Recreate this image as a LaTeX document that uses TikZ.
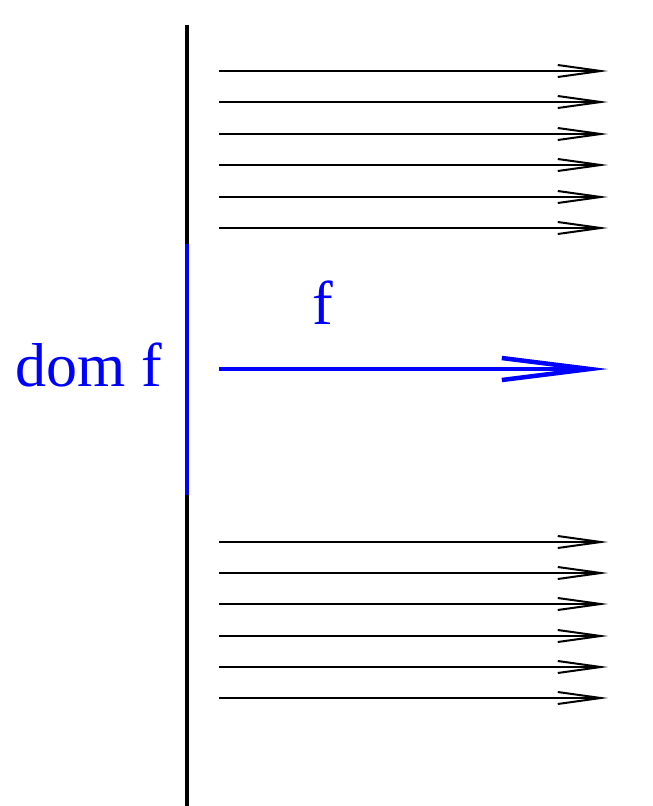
\documentclass[tikz,border=0pt]{standalone}
\usepackage{fontspec}
\setmainfont{Liberation Serif}
\usetikzlibrary{arrows.meta}
\definecolor{myblue}{RGB}{0,0,255}
\begin{document}
\begin{tikzpicture}[x=1pt,y=-1pt,
  thinarrow/.style={line width=2pt,-{Straight Barb[length=43pt,width=12pt,line cap=butt]}},
  bluearrow/.style={line width=4.5pt,myblue,-{Straight Barb[length=88pt,width=22pt,line cap=butt]}},
  axis/.style={line width=4pt,line cap=butt}]
\useasboundingbox (0,0) rectangle (653,806);
\coordinate (top) at (187,25);
\coordinate (b1) at (187,244);
\coordinate (b2) at (187,495);
\coordinate (bot) at (187,806);
\draw[axis] (top) -- (b1);
\draw[axis,myblue] (b1) -- (b2);
\draw[axis] (b2) -- (bot);
\foreach \i/\y in {1/71,2/102,3/134,4/165,5/197,6/228,7/542,8/573,9/604,10/636,11/667,12/698}{
  \coordinate (s\i) at (219,\y);
  \coordinate (e\i) at (608,\y);
  \draw[thinarrow] (s\i) -- (e\i);
}
\coordinate (fs) at (219,369);
\coordinate (fe) at (608,369);
\draw[bluearrow] (fs) -- (fe);
\node[myblue,font=\fontsize{62}{62}\selectfont,anchor=base east,inner sep=0pt] (dom) at (162,386) {dom f};
\node[myblue,font=\fontsize{62}{62}\selectfont,anchor=base,inner sep=0pt] (flab) at (323,324) {f};
\end{tikzpicture}
\end{document}
